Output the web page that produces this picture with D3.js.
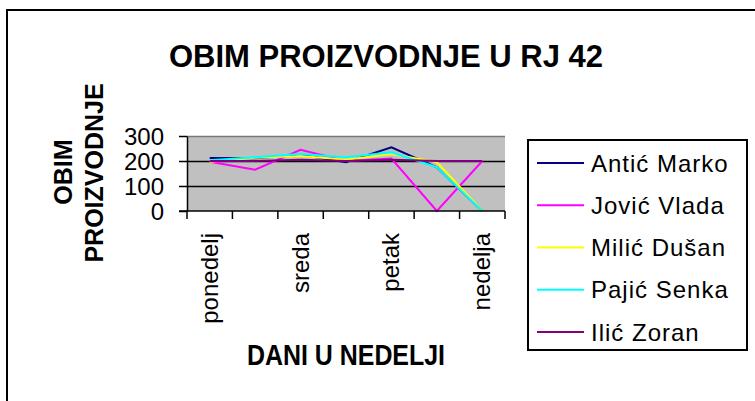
<!DOCTYPE html>
<meta charset="utf-8">
<style>
html, body {
    margin: 0;
    background: white;
}
svg text {
    font-family: "Liberation Sans", Arial, sans-serif;
    fill: black;
}
.bold {
    font-weight: bold;
}
</style>
<body>
<script src="https://d3js.org/d3.v7.min.js"></script>
<script>

var width = 755,
    height = 401;

// days of the week (only every other one is labelled on the axis)
var days = ["ponedelj", "utorak", "sreda", "četvrtak", "petak", "subota", "nedelja"];
var workers = ["Antić Marko", "Jović Vlada", "Milić Dušan", "Pajić Senka", "Ilić Zoran"];
var colors = ["#000080", "#ff00ff", "#ffff00", "#00ffff", "#800080"];

var anticMarko = [212, 211, 225, 195, 255, 175, 0];
var jovicVlada = [197, 165, 245, 200, 210, 0, 200];
var milicDusan = [197, 213, 220, 205, 228, 195, 0];
var pajicSenka = [203, 215, 228, 215, 235, 175, 0];
var ilicZoran  = [200, 200, 205, 200, 205, 200, 200];

var yTicks = [0, 100, 200, 300];

var series = [anticMarko, jovicVlada, milicDusan, pajicSenka, ilicZoran];

var svg = d3.select("body").append("svg")
    .attr("width", width)
    .attr("height", height);

// outer chart frame, only top and left edges fall inside the window
svg.append("rect")
    .attr("x", 7)
    .attr("y", 10)
    .attr("width", 1000)
    .attr("height", 1000)
    .style("fill", "white")
    .style("stroke", "black")
    .style("stroke-width", 2);

var x = d3.scaleBand()
    .domain(days)
    .range([187, 505]);

var y = d3.scaleLinear()
    .domain([0, 300])
    .range([211, 136]);

var cx = function(d) { return x(d) + x.bandwidth() / 2; };

// plot area
svg.append("rect")
    .attr("x", x.range()[0])
    .attr("y", y(300))
    .attr("width", x.range()[1] - x.range()[0])
    .attr("height", y(0) - y(300))
    .style("fill", "#c0c0c0");

svg.append("g")
    .selectAll("line")
    .data(yTicks.slice(1))
    .enter().append("line")
      .attr("x1", x.range()[0])
      .attr("x2", x.range()[1])
      .attr("y1", function(d) { return Math.round(y(d)) + 0.5; })
      .attr("y2", function(d) { return Math.round(y(d)) + 0.5; })
      .style("stroke", function(d) { return d === 300 ? "#777" : "black"; })
      .style("stroke-width", 1.5);

// lines
var line = d3.line()
    .x(function(d, i) { return cx(days[i]); })
    .y(function(d) { return y(d); });

svg.append("g")
    .selectAll("path")
    .data(series)
    .enter().append("path")
      .attr("d", line)
      .style("fill", "none")
      .style("stroke", function(d, i) { return colors[i]; })
      .style("stroke-width", 2);

// y axis
var yAxis = svg.append("g")
    .attr("transform", "translate(" + x.range()[0] + ",0)")
    .call(d3.axisLeft(y).tickValues(yTicks).tickSize(8).tickPadding(15).tickSizeOuter(0));
yAxis.select(".domain").style("stroke-width", 1.5);
yAxis.selectAll(".tick line").style("stroke-width", 1.5);
yAxis.selectAll("text")
    .style("font-size", "24px")
    .style("font-family", "'Liberation Sans', Arial, sans-serif")
    .attr("dy", "0.36em");

// x axis: Excel style ticks between categories
var edges = days.map(function(d) { return x(d); }).concat([x.range()[1]]);
var xAxis = svg.append("g");
xAxis.append("line")
    .attr("x1", x.range()[0] - 8)
    .attr("x2", x.range()[1])
    .attr("y1", y(0))
    .attr("y2", y(0))
    .style("stroke", "black")
    .style("stroke-width", 1.5);
xAxis.selectAll(".xt")
    .data(edges)
    .enter().append("line")
      .attr("class", "xt")
      .attr("x1", function(d) { return d; })
      .attr("x2", function(d) { return d; })
      .attr("y1", y(0))
      .attr("y2", y(0) + 8)
      .style("stroke", "black")
      .style("stroke-width", 1.5);

xAxis.selectAll(".xl")
    .data(days.filter(function(d, i) { return i % 2 === 0; }))
    .enter().append("text")
      .attr("class", "xl")
      .attr("transform", function(d) { return "translate(" + (cx(d) + 8) + ",233) rotate(-90)"; })
      .attr("text-anchor", "end")
      .style("font-size", "24px")
      .text(function(d) { return d; });

// titles
svg.append("text")
    .attr("class", "bold")
    .attr("x", 386)
    .attr("y", 67)
    .attr("text-anchor", "middle")
    .style("font-size", "31px")
    .text("OBIM PROIZVODNJE U RJ 42");

svg.append("text")
    .attr("class", "bold")
    .attr("transform", "translate(72,172) rotate(-90)")
    .attr("text-anchor", "middle")
    .style("font-size", "25px")
    .text("OBIM");

svg.append("text")
    .attr("class", "bold")
    .attr("transform", "translate(103,173) rotate(-90)")
    .attr("text-anchor", "middle")
    .style("font-size", "25px")
    .text("PROIZVODNJE");

svg.append("text")
    .attr("class", "bold")
    .attr("x", 247)
    .attr("y", 365)
    .attr("textLength", 198)
    .attr("lengthAdjust", "spacingAndGlyphs")
    .style("font-size", "30px")
    .text("DANI U NEDELJI");

// legend
var legend = svg.append("g");
legend.append("rect")
    .attr("x", 528)
    .attr("y", 140)
    .attr("width", 219)
    .attr("height", 210)
    .style("fill", "white")
    .style("stroke", "black")
    .style("stroke-width", 2);

var items = legend.selectAll(".item")
    .data(workers)
    .enter().append("g")
      .attr("class", "item")
      .attr("transform", function(d, i) { return "translate(0," + (163 + i * 42.25) + ")"; });

items.append("line")
    .attr("x1", 537)
    .attr("x2", 584)
    .style("stroke", function(d, i) { return colors[i]; })
    .style("stroke-width", 2);

items.append("text")
    .attr("x", 591)
    .attr("y", 8.5)
    .style("font-size", "24px")
    .style("letter-spacing", "1px")
    .text(function(d) { return d; });

</script>
